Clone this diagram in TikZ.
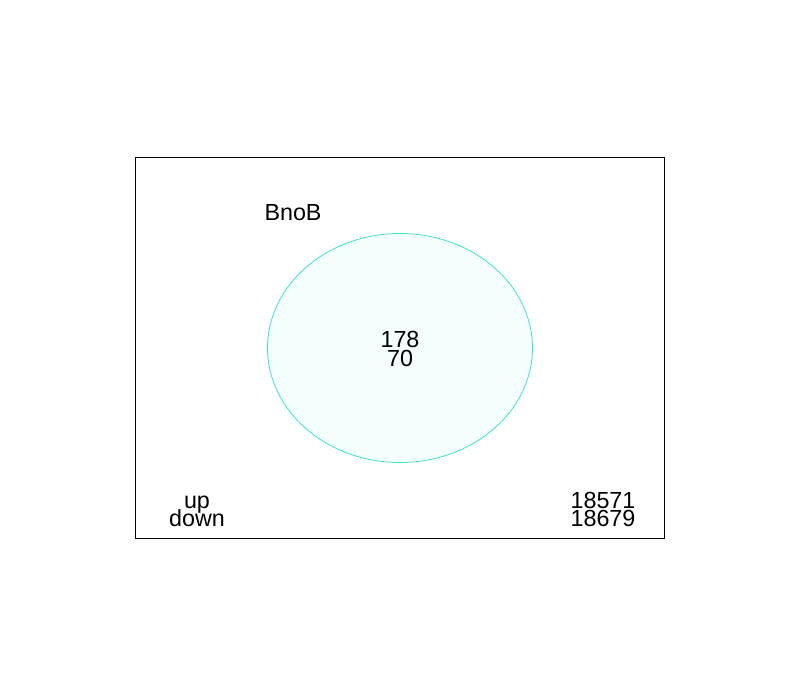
\documentclass[tikz,border=0pt]{standalone}
\usepackage{fontspec}
\setmainfont{Liberation Sans}
\usetikzlibrary{shapes.geometric}
\definecolor{turq}{HTML}{40E0D0}
\begin{document}
\begin{tikzpicture}[x=1pt,y=-1pt,
  lbl/.style={inner sep=0pt,anchor=base,font=\fontsize{23.3}{23.3}\selectfont}]
\useasboundingbox (0,0) rectangle (800,696);
\draw[line width=0.8pt] (135,157) rectangle (664,538);
\node[draw=turq,fill=turq,fill opacity=0.07,draw opacity=1,ellipse,minimum width=265pt,minimum height=229pt,inner sep=0pt,line width=0.8pt] (set) at (400,348) {};
\node[lbl] (name) at (293,220) {BnoB};
\node[lbl] (n1) at (400,347) {178};
\node[lbl] (n2) at (400,366) {70};
\node[lbl] (up) at (197,508) {up};
\node[lbl] (down) at (197,526) {down};
\node[lbl] (o1) at (603,508) {18571};
\node[lbl] (o2) at (603,526) {18679};
\end{tikzpicture}
\end{document}
